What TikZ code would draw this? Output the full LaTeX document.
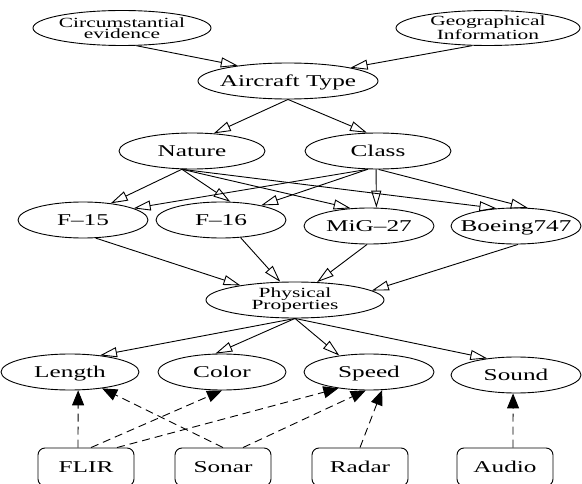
\documentclass[tikz,border=0pt]{standalone}
\usepackage{fontspec}
\setmainfont{Liberation Serif}[FakeStretch=1.53]
\usetikzlibrary{shapes.geometric,arrows.meta}

\begin{document}
\begin{tikzpicture}[x=1pt,y=-1pt,
  line width=0.9pt,
  every node/.style={inner sep=0pt},
  ell/.style={ellipse, draw, inner xsep=-40pt, inner ysep=-6pt, minimum height=36pt},
  big/.style={font=\fontsize{16.5}{18}\selectfont, text height=10.9pt, text depth=0pt},
  two/.style={font=\fontsize{14}{11.5}\selectfont, align=center},
  sensor/.style={draw, rounded corners=7pt, minimum width=96pt, minimum height=38pt, big},
  rel/.style={-{Triangle[open, length=17pt, width=10pt]}},
  obs/.style={-{Triangle[length=15pt, width=12pt]}, dash pattern=on 8pt off 5pt},
]
\useasboundingbox (0,0) rectangle (582,484);

% evidence sources
\node[ell, two, minimum width=178pt, minimum height=35pt] (circ) at (122,28) {Circumstantial\\evidence};
\node[ell, two, minimum width=184pt, minimum height=35pt] (geo) at (488,28) {Geographical\\Information};

% aircraft type and its refinements
\node[ell, big, minimum width=180pt] (air) at (288,81) {Aircraft Type};
\node[ell, big, minimum width=146pt] (nat) at (192,151) {Nature};
\node[ell, big, minimum width=146pt] (cls) at (378,151) {Class};

% concrete aircraft
\node[ell, big, minimum width=130pt] (f15) at (83,220) {F--15};
\node[ell, big, minimum width=130pt] (f16) at (221,220) {F--16};
\node[ell, big, minimum width=130pt] (mig) at (369,226) {MiG--27};
\node[ell, big, minimum width=130pt] (boe) at (516,226) {Boeing747};

% physical properties
\node[ell, two, font=\fontsize{14}{12.5}\selectfont, minimum width=178pt] (phys) at (295,300) {Physical\\Properties};
\node[ell, big, minimum width=138pt] (len) at (70,372) {Length};
\node[ell, big, minimum width=128pt] (col) at (222,372) {Color};
\node[ell, big, minimum width=130pt] (spd) at (369,372) {Speed};
\node[ell, big, minimum width=130pt] (snd) at (516,375) {Sound};

% sensors
\node[sensor] (flir) at (86,467) {FLIR};
\node[sensor] (sonar) at (223,467) {Sonar};
\node[sensor] (radar) at (360,467) {Radar};
\node[sensor] (audio) at (505,467) {Audio};

% causal links
\draw[rel] (circ.-51) -- (air.163.5);
\draw[rel] (geo.228.6) -- (air.12.4);
\draw[rel] (air.south) -- (nat.39.8);
\draw[rel] (air.south) -- (cls.121);

\draw[rel] (nat.241) -- (f15.31);
\draw[rel] (nat.241) -- (f16.63);
\draw[rel] (nat.241) -- (mig.136.6);
\draw[rel] (nat.241) -- (boe.138);
\draw[rel] (cls.241) -- (f15.13.8);
\draw[rel] (cls.241) -- (f16.20);
\draw[rel] (cls.264) -- (mig.68.7);
\draw[rel] (cls.272) -- (boe.57);

\draw[rel] (f15.305) -- (phys.165.7);
\draw[rel] (f16.318) -- (phys.129);
\draw[rel] (mig.264) -- (phys.39.8);
\draw[rel] (boe.276) -- (phys.7.5);

\draw[rel] (phys.south) -- (len.29);
\draw[rel] (phys.south) -- (col.110);
\draw[rel] (phys.south) -- (spd.151.5);
\draw[rel] (phys.south) -- (snd.150.5);

% sensor observations
\draw[obs] ([xshift=-8pt]flir.north) -- (len.294);
\draw[obs] ([xshift=5pt]flir.north) -- (col.south);
\draw[obs] ([xshift=31pt]flir.north) -- (spd.208.5);
\draw[obs] (sonar.north) -- (len.333.4);
\draw[obs] ([xshift=20pt]sonar.north) -- (spd.260);
\draw[obs] (radar.north) -- (spd.306);
\draw[obs] ([xshift=8pt]audio.north) -- (snd.261);
\end{tikzpicture}
\end{document}
